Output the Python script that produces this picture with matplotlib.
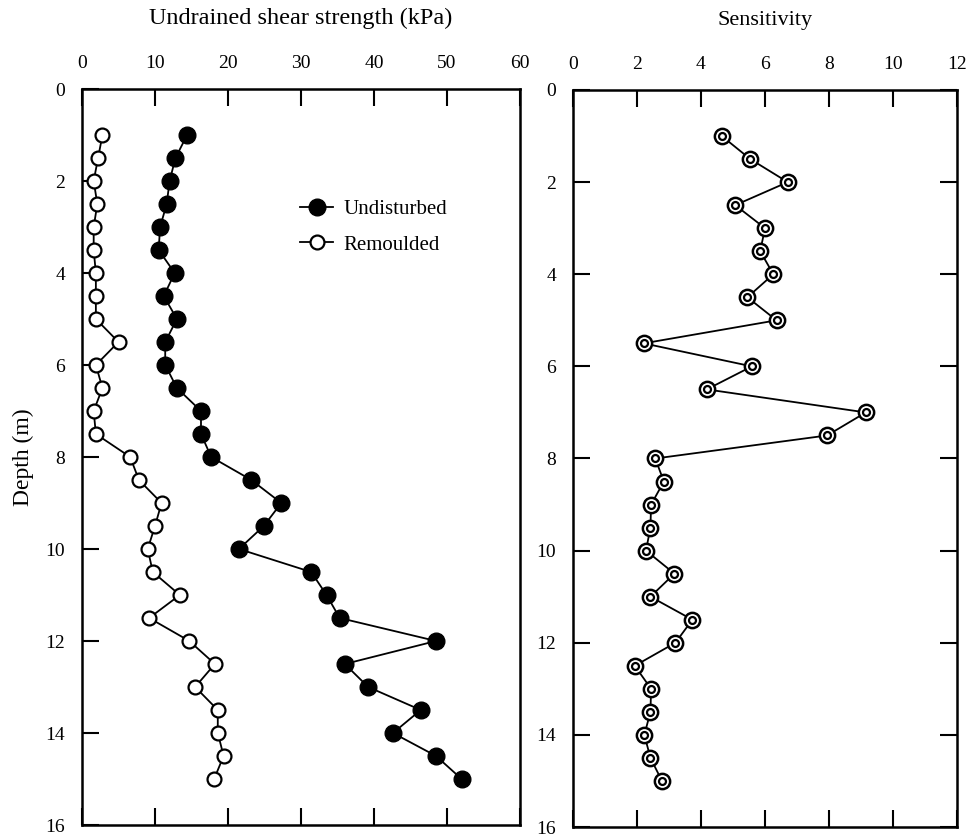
import matplotlib
matplotlib.use("Agg")
import matplotlib.pyplot as plt

plt.rcParams['font.family'] = ['Liberation Serif', 'DejaVu Serif']

# Data
depth = [1.0, 1.5, 2.0, 2.5, 3.0, 3.5, 4.0, 4.5, 5.0, 5.5, 6.0, 6.5, 7.0, 7.5,
         8.0, 8.5, 9.0, 9.5, 10.0, 10.5, 11.0, 11.5, 12.0, 12.5, 13.0, 13.5,
         14.0, 14.5, 15.0]
undisturbed = [14.4, 12.8, 12.0, 11.6, 10.7, 10.5, 12.7, 11.2, 13.0, 11.4, 11.4,
               13.0, 16.3, 16.3, 17.7, 23.2, 27.3, 24.9, 21.5, 31.4, 33.5, 35.3,
               48.5, 36.0, 39.2, 46.4, 42.6, 48.5, 52.0]
remoulded = [2.8, 2.2, 1.6, 2.1, 1.6, 1.6, 1.9, 1.9, 1.9, 5.0, 1.9, 2.8, 1.6, 1.9,
             6.6, 7.8, 10.9, 10.0, 9.0, 9.7, 13.4, 9.2, 14.7, 18.2, 15.5, 18.6,
             18.6, 19.4, 18.1]
sensitivity = [4.65, 5.54, 6.71, 5.07, 6.0, 5.85, 6.26, 5.45, 6.36, 2.21, 5.59,
               4.18, 9.15, 7.94, 2.57, 2.84, 2.44, 2.42, 2.28, 3.17, 2.42, 3.73,
               3.20, 1.93, 2.44, 2.42, 2.23, 2.42, 2.78]

su_ticks = [0, 10, 20, 30, 40, 50, 60]
st_ticks = [0, 2, 4, 6, 8, 10, 12]
depth_ticks = [0, 2, 4, 6, 8, 10, 12, 14, 16]

W, H = 973, 838
fig = plt.figure(figsize=(W / 100, H / 100), dpi=100)

def frac_box(x0, x1, y0, y1):
    return [x0 / W, 1 - y1 / H, (x1 - x0) / W, (y1 - y0) / H]

ax1 = fig.add_axes(frac_box(82, 520, 89, 825))
ax2 = fig.add_axes(frac_box(573, 957, 90, 827))

fs = 14

for ax in (ax1, ax2):
    for s in ax.spines.values():
        s.set_linewidth(1.8)
    ax.set_ylim(16, 0)
    ax.set_yticks(depth_ticks)
    ax.xaxis.tick_top()
    ax.tick_params(axis='both', direction='in', length=12, width=1.5,
                   labelsize=fs, pad=12)

# Left panel
ax1.plot(undisturbed, depth, color='black', lw=1.3, marker='o', ms=12,
         mfc='black', mec='black', label='Undisturbed', zorder=3)
ax1.plot(remoulded, depth, color='black', lw=1.3, marker='o', ms=10,
         mfc='white', mec='black', mew=1.6, label='Remoulded', zorder=3)
ax1.set_xlim(0, 60)
ax1.set_xticks(su_ticks)
ax1.tick_params(axis='x', top=True, bottom=True, labeltop=True, labelbottom=False)
ax1.tick_params(axis='y', left=True, right=False)
ax1.set_ylabel('Depth (m)', fontsize=17, labelpad=8)
ax1.set_title('Undrained shear strength (kPa)', fontsize=17.5, pad=47)
ax1.legend(loc='upper left', bbox_to_anchor=(0.455, 0.875), frameon=False,
           fontsize=15, handlelength=1.6, handletextpad=0.5, labelspacing=0.75)

# Right panel
ax2.plot(sensitivity, depth, color='black', lw=1.3, marker='o', ms=11,
         mfc='white', mec='black', mew=1.8, zorder=3)
ax2.plot(sensitivity, depth, ls='none', marker='o', ms=5,
         mfc='white', mec='black', mew=1.6, zorder=4)
ax2.set_xlim(0, 12)
ax2.set_xticks(st_ticks)
ax2.tick_params(axis='x', top=True, bottom=True, labeltop=True, labelbottom=False)
ax2.tick_params(axis='y', left=True, right=True)
ax2.set_title('Sensitivity', fontsize=16, pad=47)

fig.savefig('out.png', dpi=100)
